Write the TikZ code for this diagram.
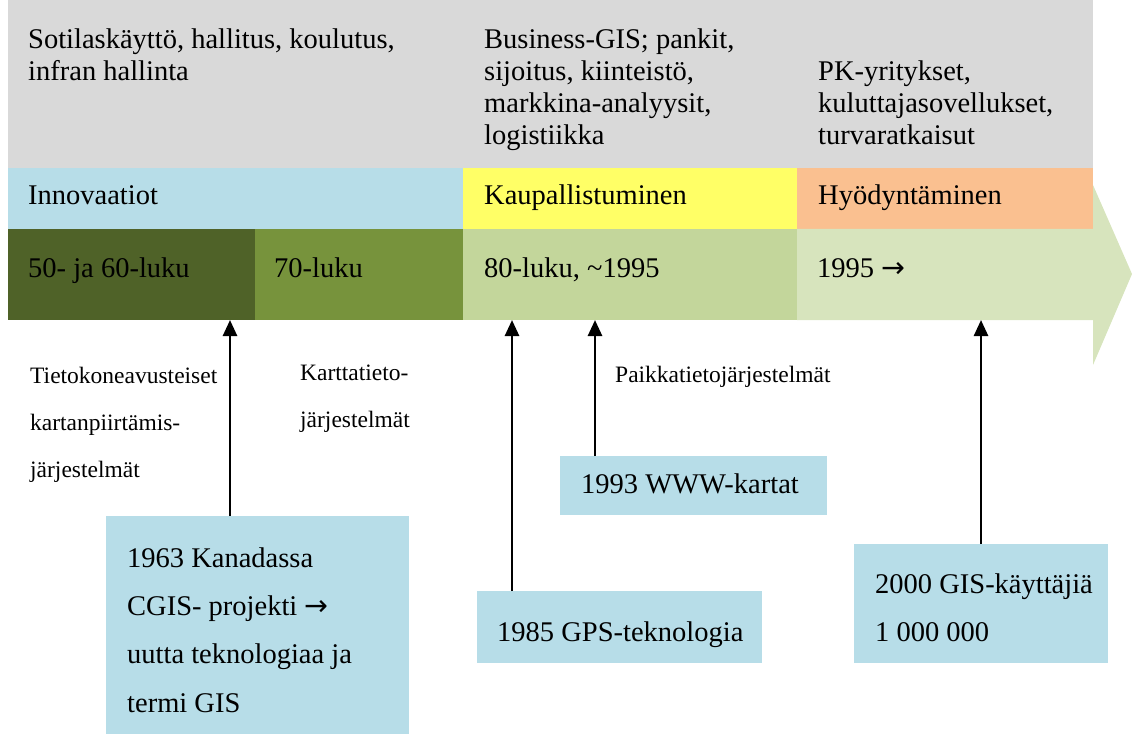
\documentclass[tikz,border=0pt]{standalone}
\usepackage{fontspec}
\setmainfont{Liberation Serif}
\newfontfamily\arrowfont{DejaVu Sans}
\usetikzlibrary{arrows.meta}

\definecolor{bandgray}{HTML}{D9D9D9}
\definecolor{phaseblue}{HTML}{B7DDE8}
\definecolor{phaseyellow}{HTML}{FFFF66}
\definecolor{phaseorange}{HTML}{FAC090}
\definecolor{eradark}{HTML}{4F6228}
\definecolor{eramid}{HTML}{77933C}
\definecolor{eralight}{HTML}{C3D69B}
\definecolor{erapale}{HTML}{D7E4BD}
\definecolor{boxblue}{HTML}{B7DDE8}

\newcommand{\rarr}{{\arrowfont\char"2192}}

\tikzset{
  band/.style={anchor=north west, inner sep=0pt, outer sep=0pt, draw=none},
  bigtxt/.style={anchor=base west, inner sep=0pt, font=\fontsize{28.5}{32}\selectfont},
  smalltxt/.style={anchor=base west, inner sep=0pt, font=\fontsize{23.5}{28}\selectfont},
  infobox/.style={anchor=north west, inner sep=0pt, outer sep=0pt, fill=boxblue},
  pointer/.style={line width=2.6pt, -{Triangle[width=14pt,length=16pt]}},
}

\begin{document}
\begin{tikzpicture}[x=1pt, y=-1pt]
\useasboundingbox (0,0) rectangle (1132,735);

% sectors band
\node[band, fill=bandgray, minimum width=1085pt, minimum height=168pt] (sectors) at (8,0) {};
\node[bigtxt] (s1a) at (28,49) {Sotilaskäyttö, hallitus, koulutus,};
\node[bigtxt] (s1b) at (28,81) {infran hallinta};
\node[bigtxt] (s2a) at (484,49) {Business-GIS; pankit,};
\node[bigtxt] (s2b) at (484,81) {sijoitus, kiinteistö,};
\node[bigtxt] (s2c) at (484,113) {markkina-analyysit,};
\node[bigtxt] (s2d) at (484,145) {logistiikka};
\node[bigtxt] (s3a) at (818,81) {PK-yritykset,};
\node[bigtxt] (s3b) at (818,113) {kuluttajasovellukset,};
\node[bigtxt] (s3c) at (818,145) {turvaratkaisut};

% phase band
\node[band, fill=phaseblue, minimum width=455pt, minimum height=61pt] (phase1) at (8,168) {};
\node[band, fill=phaseyellow, minimum width=334pt, minimum height=61pt] (phase2) at (463,168) {};
\node[band, fill=phaseorange, minimum width=296pt, minimum height=61pt] (phase3) at (797,168) {};
\node[bigtxt] (p1) at (28,205) {Innovaatiot};
\node[bigtxt] (p2) at (484,205) {Kaupallistuminen};
\node[bigtxt] (p3) at (818,205) {Hyödyntäminen};

% timeline arrow
\fill[erapale] (797,229) -- (1093,229) -- (1093,185) -- (1132,274)
  -- (1093,365) -- (1093,320) -- (797,320) -- cycle;
\node[band, fill=eradark, minimum width=247pt, minimum height=91pt] (era1) at (8,229) {};
\node[band, fill=eramid, minimum width=208pt, minimum height=91pt] (era2) at (255,229) {};
\node[band, fill=eralight, minimum width=334pt, minimum height=91pt] (era3) at (463,229) {};
\node[bigtxt] (e1) at (28,278) {50- ja 60-luku};
\node[bigtxt] (e2) at (274,278) {70-luku};
\node[bigtxt] (e3) at (484,278) {80-luku, \textasciitilde1995};
\node[bigtxt] (e4) at (817,278) {1995 \rarr};

% system generations
\node[smalltxt] (g1a) at (30,383) {Tietokoneavusteiset};
\node[smalltxt] (g1b) at (30,430) {kartanpiirtämis-};
\node[smalltxt] (g1c) at (30,477) {järjestelmät};
\node[smalltxt] (g2a) at (300,380) {Karttatieto-};
\node[smalltxt] (g2b) at (300,427) {järjestelmät};
\node[smalltxt] (g3) at (615,382) {Paikkatietojärjestelmät};

% milestone boxes
\node[infobox, minimum width=303pt, minimum height=218pt] (box1) at (106,516) {};
\node[bigtxt] (b1a) at (127,567) {1963 Kanadassa};
\node[bigtxt] (b1b) at (127,615) {CGIS- projekti \rarr};
\node[bigtxt] (b1c) at (127,663) {uutta teknologiaa ja};
\node[bigtxt] (b1d) at (127,712) {termi GIS};

\node[infobox, minimum width=267pt, minimum height=59pt] (box2) at (560,456) {};
\node[bigtxt] (b2) at (581,493) {1993 WWW-kartat};

\node[infobox, minimum width=285pt, minimum height=72pt] (box3) at (477,591) {};
\node[bigtxt] (b3) at (497,641) {1985 GPS-teknologia};

\node[infobox, minimum width=254pt, minimum height=119pt] (box4) at (854,544) {};
\node[bigtxt] (b4a) at (875,593) {2000 GIS-käyttäjiä};
\node[bigtxt] (b4b) at (875,641) {1 000 000};

% pointers into the timeline
\coordinate (t1) at (230,320);
\coordinate (t2) at (512,320);
\coordinate (t3) at (595,320);
\coordinate (t4) at (981,320);
\draw[pointer] (t1 |- box1.north) -- (t1);
\draw[pointer] (t2 |- box3.north) -- (t2);
\draw[pointer] (t3 |- box2.north) -- (t3);
\draw[pointer] (t4 |- box4.north) -- (t4);
\end{tikzpicture}
\end{document}
